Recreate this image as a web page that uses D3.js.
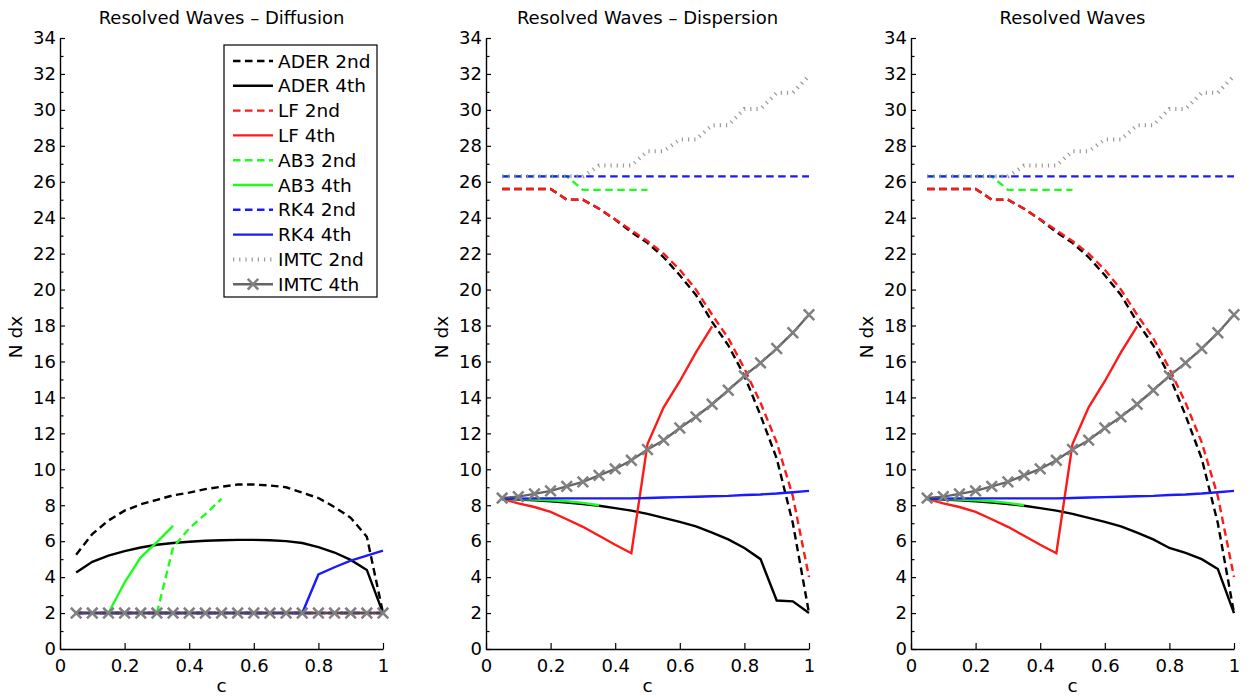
<!DOCTYPE html>
<html>
<head>
<meta charset="utf-8">
<script src="https://cdn.jsdelivr.net/npm/d3@7"></script>
<style>
  body { margin: 0; background: #fff; }
  text { font-family: "DejaVu Sans", sans-serif; fill: #000; }
</style>
</head>
<body>
<svg id="chart" width="1251" height="696"></svg>
<script>
// c values (courant number)
var cVals = [0.05,0.1,0.15,0.2,0.25,0.3,0.35,0.4,0.45,0.5,0.55,0.6,0.65,0.7,0.75,0.8,0.85,0.9,0.95,1.0];
var xTicks = [0,0.2,0.4,0.6,0.8,1];
var yMajor = [0,2,4,6,8,10,12,14,16,18,20,22,24,26,28,30,32,34];
var yMinor = [1,3,5,7,9,11,13,15,17,19,21,23,25,27,29,31,33];
var titles = ["Resolved Waves \u2013 Diffusion", "Resolved Waves \u2013 Dispersion", "Resolved Waves"];
var seriesNames = ["ADER 2nd","ADER 4th","LF 2nd","LF 4th","AB3 2nd","AB3 4th","RK4 2nd","RK4 4th","IMTC 2nd","IMTC 4th"];

// diffusion
var difAder2 = [5.25,6.4,7.15,7.7,8.05,8.3,8.55,8.7,8.9,9.03,9.15,9.15,9.1,9.0,8.7,8.4,7.9,7.3,6.25,2.0];
var difAder4 = [4.26,4.85,5.2,5.45,5.65,5.8,5.9,5.97,6.02,6.05,6.07,6.07,6.05,6.0,5.9,5.67,5.37,4.96,4.4,2.0];
var difLf2   = [2,2,2,2,2,2,2,2,2,2,2,2,2,2,2,2,2,2,2,2];
var difLf4   = [2,2,2,2,2,2,2,2,2,2,2,2,2,2,2,2,2,2,2,2];
var difAb32  = [null,null,null,null,null,2.0,5.65,6.7,7.5,8.35,null,null,null,null,null,null,null,null,null,null];
var difAb34  = [null,null,2.0,3.7,5.1,5.95,6.85,null,null,null,null,null,null,null,null,null,null,null,null,null];
var difRk42  = [2,2,2,2,2,2,2,2,2,2,2,2,2,2,2,2,2,2,2,2];
var difRk44  = [2,2,2,2,2,2,2,2,2,2,2,2,2,2,2.0,4.15,4.55,4.92,5.2,5.47];
var difImtc2 = [2,2,2,2,2,2,2,2,2,2,2,2,2,2,2,2,2,2,2,2];
var difImtc4 = [2,2,2,2,2,2,2,2,2,2,2,2,2,2,2,2,2,2,2,2];

// dispersion
var disAder2 = [25.6,25.6,25.6,25.6,25.0,25.0,24.5,23.9,23.2,22.6,21.8,20.8,19.7,18.2,16.9,15.2,13.0,10.6,7.0,2.0];
var disAder4 = [8.35,8.32,8.28,8.22,8.15,8.07,7.97,7.84,7.7,7.52,7.3,7.07,6.82,6.48,6.1,5.62,5.0,2.7,2.65,2.0];
var disLf2   = [25.6,25.6,25.6,25.6,25.0,25.0,24.5,23.9,23.3,22.7,22.0,21.1,20.0,18.6,17.3,15.6,13.7,11.5,8.5,4.0];
var disLf4   = [8.35,8.1,7.9,7.63,7.22,6.8,6.3,5.8,5.33,11.4,13.45,14.9,16.5,17.95,null,null,null,null,null,null];
var disAb32  = [26.3,26.3,26.3,26.3,26.3,25.55,25.55,25.55,25.55,25.55,null,null,null,null,null,null,null,null,null,null];
var disAb34  = [8.35,8.34,8.32,8.28,8.22,8.13,8.0,null,null,null,null,null,null,null,null,null,null,null,null,null];
var disRk42  = [26.3,26.3,26.3,26.3,26.3,26.3,26.3,26.3,26.3,26.3,26.3,26.3,26.3,26.3,26.3,26.3,26.3,26.3,26.3,26.3];
var disRk44  = [8.35,8.37,8.38,8.38,8.38,8.38,8.38,8.38,8.38,8.4,8.43,8.45,8.47,8.5,8.52,8.57,8.6,8.65,8.72,8.8];
var disImtc2 = [26.3,26.3,26.3,26.3,26.3,26.3,26.9,26.9,26.9,27.7,27.7,28.35,28.35,29.15,29.15,30.05,30.05,30.95,30.95,31.9];
var disImtc4 = [8.4,8.48,8.63,8.8,9.05,9.3,9.66,10.02,10.5,11.1,11.62,12.3,12.92,13.62,14.4,15.2,15.92,16.72,17.6,18.6];

// resolved (only ADER 4th differs from dispersion)
var resAder4 = [8.35,8.32,8.28,8.22,8.15,8.07,7.97,7.84,7.7,7.52,7.3,7.07,6.82,6.48,6.1,5.62,5.35,5.0,4.45,2.0];

var panels = [
  [difAder2,difAder4,difLf2,difLf4,difAb32,difAb34,difRk42,difRk44,difImtc2,difImtc4],
  [disAder2,disAder4,disLf2,disLf4,disAb32,disAb34,disRk42,disRk44,disImtc2,disImtc4],
  [disAder2,resAder4,disLf2,disLf4,disAb32,disAb34,disRk42,disRk44,disImtc2,disImtc4]
];

// styles per series
var styles = [
  {color:"#000", dash:"7.5,4.5"},
  {color:"#000", dash:null},
  {color:"#ff1a1a", dash:"7.5,4.5"},
  {color:"#ff1a1a", dash:null},
  {color:"#1aff1a", dash:"7.5,4.5"},
  {color:"#1aff1a", dash:null},
  {color:"#1a1aff", dash:"7.5,4.5"},
  {color:"#1a1aff", dash:null},
  {color:"#999", dash:"1.2,5", width:4},
  {color:"#4a4a4a", dash:null, marker:true, opacity:0.85}
];

var svg = d3.select("#chart");
var axLeft = [60, 486, 911];
var axW = 323;
var yTop = 38, yBot = 649;

var cross = "M-5.3,-5.3L5.3,5.3M-5.3,5.3L5.3,-5.3";

panels.forEach(function(series, p){
  var x = d3.scaleLinear().domain([0,1]).range([axLeft[p], axLeft[p]+axW]);
  var y = d3.scaleLinear().domain([0,34]).range([yBot, yTop]);
  var g = svg.append("g");

  //线条
  series.forEach(function(vals, i){
    var st = styles[i];
    var pts = cVals.map(function(c, k){ return {c:c, v:vals[k]}; });
    var line = d3.line()
      .defined(function(d){ return d.v != null; })
      .x(function(d){ return x(d.c); })
      .y(function(d){ return y(d.v); });
    g.append("path")
      .datum(pts)
      .attr("fill","none")
      .attr("stroke", st.color)
      .attr("stroke-width", st.width || 2.4)
      .attr("stroke-opacity", st.opacity || 1)
      .attr("stroke-dasharray", st.dash)
      .attr("d", line);
    if(st.marker){
      g.selectAll(".mk"+p)
        .data(pts.filter(function(d){ return d.v != null; }))
        .enter().append("path")
        .attr("transform", function(d){ return "translate(" + x(d.c) + "," + y(d.v) + ")"; })
        .attr("d", cross)
        .attr("fill","none")
        .attr("stroke","#808080")
        .attr("stroke-width",2.5);
    }
  });

  //坐标轴
  var ax = g.append("g")
    .attr("transform","translate(0," + yBot + ")")
    .call(d3.axisBottom(x).tickValues(xTicks).tickFormat(function(d){ return d; }).tickSize(-6).tickSizeOuter(0).tickPadding(10));
  var ay = g.append("g")
    .attr("transform","translate(" + axLeft[p] + ",0)")
    .call(d3.axisLeft(y).tickValues(yMajor).tickSize(-5).tickSizeOuter(0).tickPadding(4));
  var aym = g.append("g")
    .attr("transform","translate(" + axLeft[p] + ",0)")
    .call(d3.axisLeft(y).tickValues(yMinor).tickFormat("").tickSize(-3.5).tickSizeOuter(0));
  aym.select(".domain").remove();
  [ax, ay, aym].forEach(function(a){
    a.selectAll("text").attr("font-family","DejaVu Sans").attr("font-size","18px").attr("fill","#000");
    a.selectAll("line").attr("stroke","#000").attr("stroke-width",1.2);
    a.select(".domain").attr("stroke","#000").attr("stroke-width",1.4);
  });

  //标题
  g.append("text")
    .attr("x", axLeft[p] + axW/2)
    .attr("y", 23.5)
    .attr("text-anchor","middle")
    .attr("font-size","18px")
    .text(titles[p]);
  g.append("text")
    .attr("x", axLeft[p] + axW/2)
    .attr("y", 691.5)
    .attr("text-anchor","middle")
    .attr("font-size","18.5px")
    .text("c");
  g.append("text")
    .attr("transform","translate(" + (axLeft[p]-38.5) + ",337) rotate(-90)")
    .attr("text-anchor","middle")
    .attr("font-size","18.5px")
    .text("N dx");
});

//图例
var lg = svg.append("g");
lg.append("rect")
  .attr("x",224).attr("y",45).attr("width",153).attr("height",252)
  .attr("fill","#fff").attr("stroke","#000").attr("stroke-width",1.2);
seriesNames.forEach(function(name, i){
  var st = styles[i];
  var yy = 61 + i*24.8;
  lg.append("line")
    .attr("x1",233).attr("x2",273).attr("y1",yy).attr("y2",yy)
    .attr("stroke", st.color)
    .attr("stroke-width", st.width || 2.4)
    .attr("stroke-opacity", st.opacity || 1)
    .attr("stroke-dasharray", st.dash);
  if(st.marker){
    lg.append("path")
      .attr("transform","translate(253," + yy + ")")
      .attr("d", cross)
      .attr("fill","none").attr("stroke","#808080").attr("stroke-width",2.5);
  }
  lg.append("text")
    .attr("x",278).attr("y",yy)
    .attr("dy","0.36em")
    .attr("font-size","18.5px")
    .text(name);
});
</script>
</body>
</html>
